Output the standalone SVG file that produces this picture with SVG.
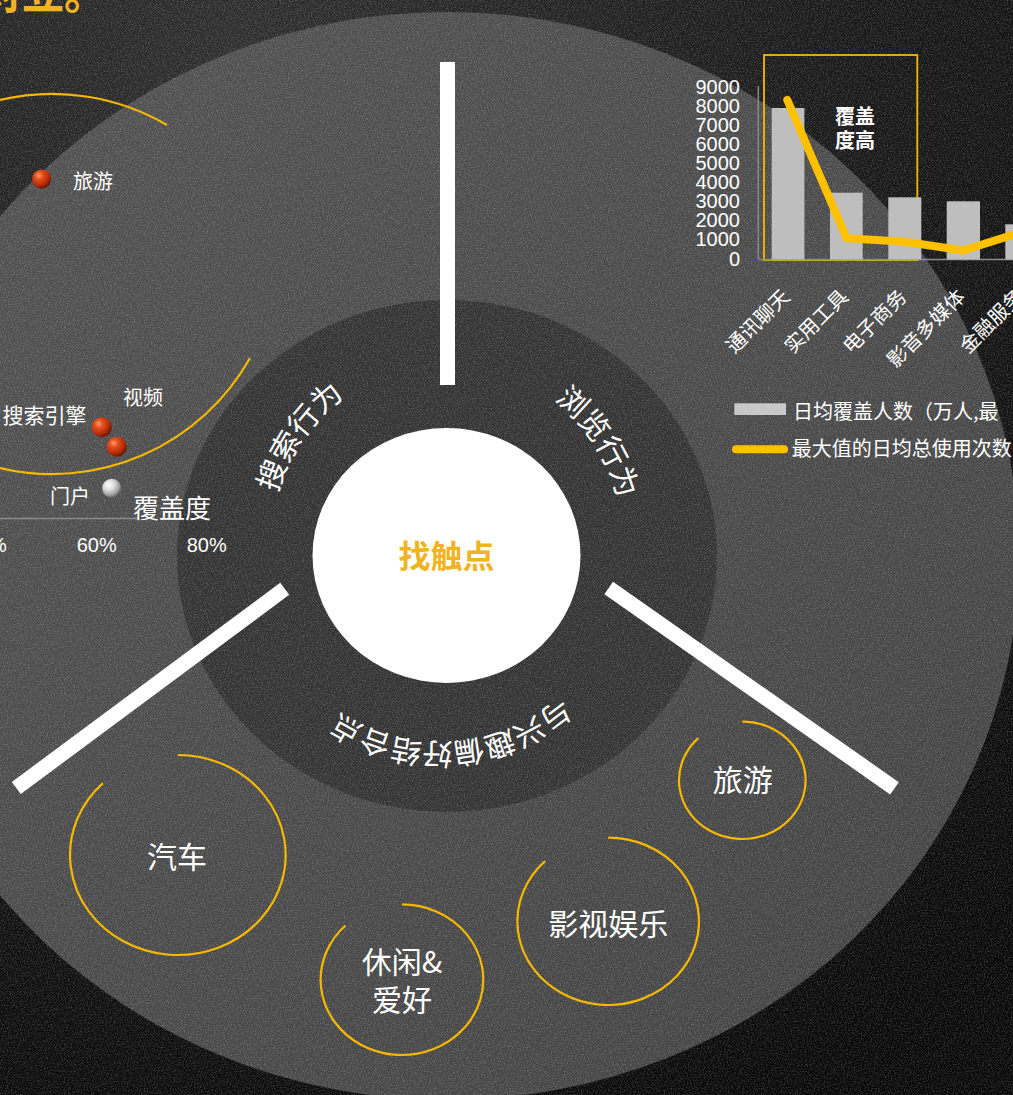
<svg xmlns="http://www.w3.org/2000/svg" width="1013" height="1095" viewBox="0 0 1013 1095">
<defs>
<radialGradient id="bg" gradientUnits="userSpaceOnUse" cx="250" cy="60" r="1150">
<stop offset="0" stop-color="#2e2e2e"/>
<stop offset="0.5" stop-color="#191919"/>
<stop offset="1" stop-color="#080808"/>
</radialGradient>
<linearGradient id="outer" x1="0" y1="0" x2="1" y2="1">
<stop offset="0" stop-color="#525252"/>
<stop offset="1" stop-color="#424242"/>
</linearGradient>
<radialGradient id="red" cx="0.35" cy="0.32" r="0.7">
<stop offset="0" stop-color="#ff9a6a"/>
<stop offset="0.3" stop-color="#e4501e"/>
<stop offset="0.75" stop-color="#b32a06"/>
<stop offset="1" stop-color="#6a1300"/>
</radialGradient>
<radialGradient id="silver" cx="0.35" cy="0.32" r="0.7">
<stop offset="0" stop-color="#ffffff"/>
<stop offset="0.4" stop-color="#dcdcdc"/>
<stop offset="0.8" stop-color="#9a9a9a"/>
<stop offset="1" stop-color="#5a5a5a"/>
</radialGradient>
<filter id="noise" x="0" y="0" width="100%" height="100%">
<feTurbulence type="fractalNoise" baseFrequency="0.7" numOctaves="2" seed="4"/>
<feColorMatrix type="matrix" values="0 0 0 0 1  0 0 0 0 1  0 0 0 0 1  0 0 0 1.6 -0.66"/>
</filter>
<path id="arcL" d="M287.5,614.4 A176,176 0 0 1 462.3,364.7"/>
<path id="arcR" d="M437.8,364.2 A176,176 0 0 1 603.8,619.9"/>
<path id="arcB" d="M621,579 A182,182 0 0 1 263,604"/>
</defs>
<style>
.cjk{font-family:"Noto Sans CJK SC","Noto Sans",sans-serif;fill:#fff}
.num{font-family:"Liberation Sans",Arial,sans-serif;fill:#fff}
.ring{font-size:30px}
.ylab{font-size:20px;text-anchor:end}
.xlab{font-size:20px;text-anchor:end}
.bub{fill:none;stroke:#F5B800;stroke-width:2.2}
.bubt{font-size:30px;text-anchor:middle}
.bar{fill:#BEBEBE}
.spoke{stroke:#fff;stroke-width:15;stroke-linecap:butt}
</style>

<rect width="1013" height="1095" fill="url(#bg)"/>
<ellipse cx="447" cy="556" rx="572" ry="544" fill="url(#outer)"/>
<ellipse cx="447" cy="556" rx="270" ry="256" fill="#333333"/>
<rect width="1013" height="1095" filter="url(#noise)" opacity="0.3"/>

<g id="title">
<text x="-20" y="9" font-family="Noto Sans CJK SC, sans-serif" font-weight="bold" font-size="42" fill="#F0B323">对立。</text>
</g>

<g id="scatter">
<path d="M0,100 A228,228 0 0 1 167,125" fill="none" stroke="#F5B800" stroke-width="2.2"/>
<path d="M0,468 A227,227 0 0 0 250,358" fill="none" stroke="#F5B800" stroke-width="2.2"/>
<line x1="0" y1="518.5" x2="137" y2="518.5" stroke="#8a8a8a" stroke-width="1.5"/>
<circle cx="41.7" cy="179" r="9.5" fill="url(#red)"/>
<circle cx="101.7" cy="427.3" r="10" fill="url(#red)"/>
<circle cx="116.7" cy="446.7" r="10" fill="url(#red)"/>
<circle cx="111.7" cy="488.3" r="9.5" fill="url(#silver)"/>
<text class="cjk" x="73" y="189.3" font-size="20">旅游</text>
<text class="cjk" x="123" y="405" font-size="20">视频</text>
<text class="cjk" x="2.5" y="422.6" font-size="21">搜索引擎</text>
<text class="cjk" x="50" y="504.3" font-size="20">门户</text>
<text class="cjk" x="133" y="518" font-size="26">覆盖度</text>
<text class="num" x="-33.3" y="552.2" font-size="20">40%</text>
<text class="num" x="76.7" y="552.2" font-size="20">60%</text>
<text class="num" x="186.7" y="552.2" font-size="20">80%</text>
</g>

<g id="chart">
<rect x="764" y="55" width="153.3" height="205" fill="none" stroke="#F5B800" stroke-width="1.8"/>
<line x1="758.3" y1="86" x2="758.3" y2="259.5" stroke="#8a8a8a" stroke-width="1.5"/>
<line x1="758.3" y1="259.5" x2="1013" y2="259.5" stroke="#8a8a8a" stroke-width="1.5"/>
<rect class="bar" x="771.7" y="108" width="32.7" height="151.5"/>
<rect class="bar" x="830" y="192.7" width="32.7" height="66.8"/>
<rect class="bar" x="888.3" y="197.3" width="33" height="62.2"/>
<rect class="bar" x="946.7" y="201.3" width="33.3" height="58.2"/>
<rect class="bar" x="1005.3" y="224.3" width="33" height="35.2"/>
<g class="num ylab">
<text x="740" y="93.9">9000</text>
<text x="740" y="113">8000</text>
<text x="740" y="132">7000</text>
<text x="740" y="151.1">6000</text>
<text x="740" y="170.2">5000</text>
<text x="740" y="189.2">4000</text>
<text x="740" y="208.3">3000</text>
<text x="740" y="227.4">2000</text>
<text x="740" y="246.4">1000</text>
<text x="740" y="265.5">0</text>
</g>
<polyline points="787.3,100 846.7,238.3 905,241.7 963.3,250.5 1025,231" fill="none" stroke="#FFC000" stroke-width="8" stroke-linejoin="round" stroke-linecap="round"/>
<text class="cjk" x="855" y="124.3" font-size="20" font-weight="bold" text-anchor="middle">覆盖</text>
<text class="cjk" x="855" y="147.6" font-size="20" font-weight="bold" text-anchor="middle">度高</text>
<g class="cjk xlab">
<text transform="translate(791,298) rotate(-45)">通讯聊天</text>
<text transform="translate(849.3,298) rotate(-45)">实用工具</text>
<text transform="translate(907.8,298) rotate(-45)">电子商务</text>
<text transform="translate(966.3,298) rotate(-45)">影音多媒体</text>
<text transform="translate(1024.7,298) rotate(-45)">金融服务</text>
</g>
<rect x="734.3" y="403.3" width="51.7" height="11.7" fill="#C8C8C8"/>
<text class="cjk" x="793" y="418.7" font-size="20">日均覆盖人数（万人,最</text>
<line x1="736" y1="449.3" x2="784" y2="449.3" stroke="#FFC000" stroke-width="8" stroke-linecap="round"/>
<text class="cjk" x="791.7" y="456.3" font-size="20">最大值的日均总使用次数</text>
</g>

<g id="spokes">
<line class="spoke" x1="447.5" y1="62" x2="447.5" y2="385"/>
<line class="spoke" x1="284.7" y1="588.8" x2="16.3" y2="788"/>
<line class="spoke" x1="608.7" y1="588" x2="894.5" y2="788.3"/>
</g>

<g id="center">
<ellipse cx="446.5" cy="555.5" rx="134" ry="127.5" fill="#fff"/>
<text x="446.5" y="568" font-family="Noto Sans CJK SC, sans-serif" font-weight="bold" font-size="32" fill="#F0B323" text-anchor="middle">找触点</text>
</g>

<g id="ring-labels" class="cjk ring">
<text><textPath href="#arcL" startOffset="50%" text-anchor="middle">搜索行为</textPath></text>
<text><textPath href="#arcR" startOffset="50%" text-anchor="middle">浏览行为</textPath></text>
<text><textPath href="#arcB" startOffset="50%" text-anchor="middle">与兴趣偏好结合点</textPath></text>
</g>

<g id="node-car">
<path class="bub" d="M177.8,755 A107.8,100 0 1 1 102.9,783.1"/>
<text class="cjk bubt" x="177" y="868">汽车</text>
</g>
<g id="node-leisure">
<path class="bub" d="M402,904.4 A81.3,75.3 0 1 1 345.5,925.5"/>
<text class="cjk bubt" x="402" y="973">休闲&amp;</text>
<text class="cjk bubt" x="402" y="1011.4">爱好</text>
</g>
<g id="node-travel">
<path class="bub" d="M742.3,721.6 A63.3,58.7 0 1 1 698.3,738.1"/>
<text class="cjk bubt" x="742.7" y="791.4">旅游</text>
</g>
<g id="node-ent">
<path class="bub" d="M608.2,837.6 A90.8,83.7 0 1 1 545.1,861.1"/>
<text class="cjk bubt" x="608.3" y="934.7" font-size="31">影视娱乐</text>
</g>
</svg>
